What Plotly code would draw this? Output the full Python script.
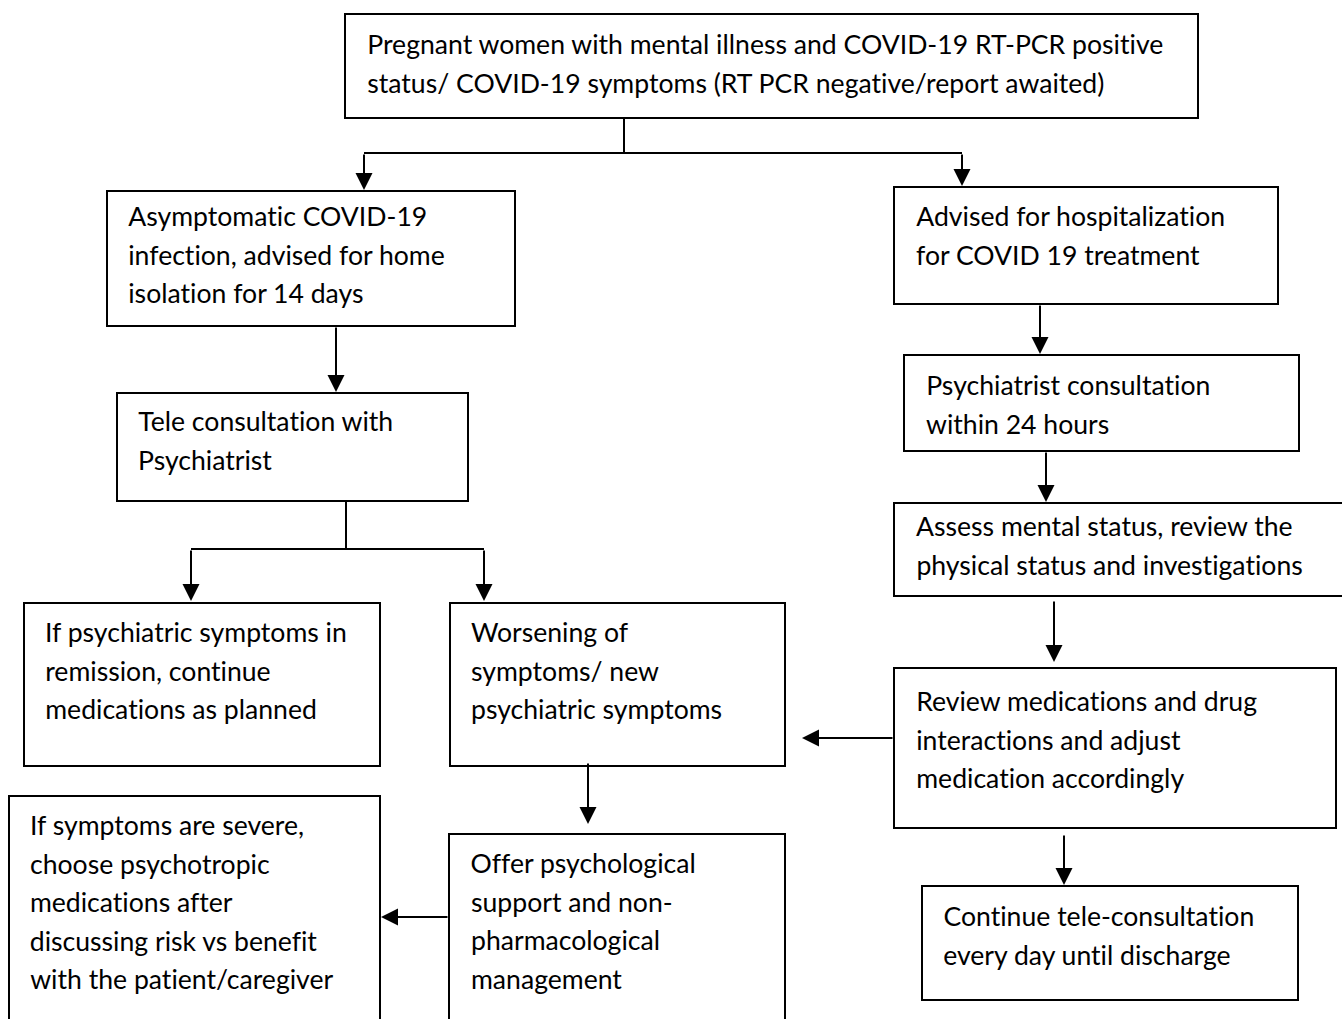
import plotly.graph_objects as go

# ---- content (text of each flowchart node, one entry per line) ----
node_ids = ["start", "asymp", "hosp", "tele", "remission", "worsening",
            "psych24", "assess", "review", "offer", "severe", "continue"]
node_text = {
    "start": ["Pregnant women with mental illness and COVID-19 RT-PCR positive",
              "status/ COVID-19 symptoms (RT PCR negative/report awaited)"],
    "asymp": ["Asymptomatic COVID-19", "infection, advised for home", "isolation for 14 days"],
    "hosp": ["Advised for hospitalization", "for COVID 19 treatment"],
    "tele": ["Tele consultation with", "Psychiatrist"],
    "remission": ["If psychiatric symptoms in", "remission, continue", "medications as planned"],
    "worsening": ["Worsening of", "symptoms/ new", "psychiatric symptoms"],
    "psych24": ["Psychiatrist consultation", "within 24 hours"],
    "assess": ["Assess mental status, review the", "physical status and investigations"],
    "review": ["Review medications and drug", "interactions and adjust", "medication accordingly"],
    "offer": ["Offer psychological", "support and non-", "pharmacological", "management"],
    "severe": ["If symptoms are severe,", "choose psychotropic", "medications after",
               "discussing risk vs benefit", "with the patient/caregiver"],
    "continue": ["Continue tele-consultation", "every day until discharge"],
}

# ---- geometry (pixel layout of the drawing) ----
# box: x0, y0, x1, y1, text-left x, first line y
geom = {
    "start": (345, 14, 1198, 118, 365, 44),
    "asymp": (107, 191, 515, 326, 126, 216),
    "hosp": (894, 187, 1278, 304, 914, 216),
    "tele": (117, 393, 468, 501, 136, 421),
    "remission": (24, 603, 380, 766, 43, 632),
    "worsening": (450, 603, 785, 766, 469, 632),
    "psych24": (904, 355, 1299, 451, 924, 385),
    "assess": (894, 503, 1345, 596, 914, 526),
    "review": (894, 668, 1336, 828, 914, 701),
    "offer": (449, 834, 785, 1030, 469, 863),
    "severe": (9, 796, 380, 1030, 28, 825),
    "continue": (922, 886, 1298, 1000, 941, 916),
}
LINE_GAP = 38.6

plain_lines = [
    (624, 118, 624, 153),
    (364, 153, 962, 153),
    (346, 501, 346, 549),
    (191, 549, 484, 549),
]
# arrows: tail x, tail y, tip x, tip y
arrows = [
    (364, 153, 364, 190),
    (962, 153, 962, 186),
    (336, 326, 336, 392),
    (191, 549, 191, 601),
    (484, 549, 484, 601),
    (1040, 304, 1040, 354),
    (1046, 451, 1046, 502),
    (1054, 600, 1054, 662),
    (894, 738, 802, 738),
    (588, 762, 588, 824),
    (449, 917, 381, 917),
    (1064, 834, 1064, 885),
]

FONT = dict(family="Lato, 'Open Sans', sans-serif", size=26.6, color="#000000")

W, H = 1342, 1019

fig = go.Figure()
fig.add_trace(go.Scatter(x=[0, W], y=[0, H], mode="markers",
                         marker=dict(opacity=0), hoverinfo="skip", showlegend=False))

for nid in node_ids:
    x0, y0, x1, y1, tx, ty = geom[nid]
    fig.add_shape(type="rect", x0=x0, y0=y0, x1=x1, y1=y1, xref="x", yref="y",
                  line=dict(color="#000000", width=2), fillcolor="rgba(0,0,0,0)")
    for i, line in enumerate(node_text[nid]):
        fig.add_annotation(x=tx, y=ty + i * LINE_GAP, xref="x", yref="y",
                           text=line, showarrow=False, xanchor="left", yanchor="middle",
                           font=FONT)

for (xa, ya, xb, yb) in plain_lines:
    fig.add_shape(type="line", x0=xa, y0=ya, x1=xb, y1=yb, xref="x", yref="y",
                  line=dict(color="#000000", width=2))

for (xa, ya, xb, yb) in arrows:
    fig.add_annotation(x=xb, y=yb, ax=xa, ay=ya, xref="x", yref="y",
                       axref="x", ayref="y", text="", showarrow=True,
                       arrowhead=2, arrowsize=1.7, arrowwidth=2, arrowcolor="#000000")

fig.update_layout(
    width=W, height=H,
    margin=dict(l=0, r=0, t=0, b=0),
    paper_bgcolor="#ffffff", plot_bgcolor="#ffffff",
    xaxis=dict(range=[0, W], visible=False, fixedrange=True),
    yaxis=dict(range=[H, 0], visible=False, fixedrange=True),
    showlegend=False,
)

post = (
    "document.body.style.margin='0';"
    "document.body.style.overflow='hidden';"
    "var s=document.createElement('style');"
    "s.textContent='text{font-variant-ligatures:none !important;}';"
    "document.head.appendChild(s);"
)

fig.write_html("out.html", config={"staticPlot": True}, post_script=post)
